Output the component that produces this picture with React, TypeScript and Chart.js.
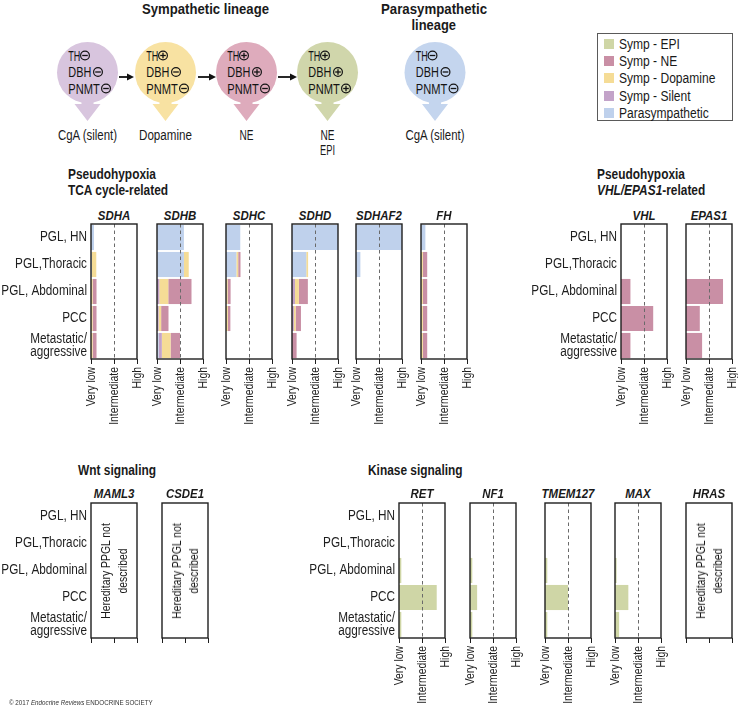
import React, { useEffect, useRef } from "react";
import { Chart, registerables } from "chart.js";
Chart.register(...registerables);

const FONT = "'Liberation Sans', Arial, sans-serif";

// ---------- data ----------
const categories = [["PGL, HN"], ["PGL,Thoracic"], ["PGL, Abdominal"], ["PCC"], ["Metastatic/", "aggressive"]];
const xTickValues = [0, 1, 2];
const xTickLabels = ["Very low", "Intermediate", "High"];
const seriesNames = ["Parasympathetic", "Symp - Silent", "Symp - Dopamine", "Symp - NE", "Symp - EPI"];
const seriesColors = ["#bfd1ec", "#c3a3c9", "#f5dc96", "#c98fa5", "#cfd6a6"];
const legendOrder = ["Symp - EPI", "Symp - NE", "Symp - Dopamine", "Symp - Silent", "Parasympathetic"];

// order of values: PGL HN, PGL Thoracic, PGL Abdominal, PCC, Metastatic
const zero = [0, 0, 0, 0, 0];
const sdhaPara = [0.13, 0.03, 0, 0, 0];
const sdhaDopa = [0, 0.2, 0.07, 0.07, 0.07];
const sdhaNE = [0, 0, 0.17, 0.17, 0.17];

const sdhbPara = [1.17, 1.17, 0, 0, 0.07];
const sdhbSilent = [0, 0, 0.1, 0.07, 0.14];
const sdhbDopa = [0, 0.21, 0.39, 0.11, 0.38];
const sdhbNE = [0, 0, 1.01, 0.32, 0.41];

const sdhcPara = [0.62, 0.45, 0, 0, 0];
const sdhcDopa = [0, 0.08, 0.07, 0.08, 0];
const sdhcNE = [0, 0.1, 0.13, 0.11, 0];

const sdhdPara = [2, 0.62, 0, 0, 0];
const sdhdSilent = [0, 0, 0.13, 0.08, 0];
const sdhdDopa = [0, 0.08, 0.17, 0.08, 0];
const sdhdNE = [0, 0, 0.39, 0.23, 0.2];

const sdhaf2Para = [2, 0.19, 0, 0, 0];

const fhPara = [0.19, 0, 0, 0, 0];
const fhDopa = [0, 0.08, 0.08, 0.08, 0.08];
const fhNE = [0, 0.19, 0.19, 0.19, 0.19];

const vhlNE = [0, 0, 0.41, 1.4, 0.41];
const epas1NE = [0, 0, 1.61, 0.6, 0.7];

const retEPI = [0, 0, 0.1, 1.64, 0.1];
const nf1EPI = [0, 0, 0.1, 0.31, 0.1];
const tmem127EPI = [0, 0, 0.1, 1.0, 0.1];
const maxEPI = [0, 0, 0.07, 0.58, 0.18];

const notDescribed = ["Hereditary PPGL not", "described"];

// ---------- chart plugin: frame, dashed intermediate line, ticks and condensed labels ----------
const framePlugin = {
  id: "frame",
  afterDatasetsDraw(chart: any, _args: any, opts: any) {
    const { ctx, chartArea } = chart;
    const { left, top, right, bottom } = chartArea;
    const xs = chart.scales.x;
    const ys = chart.scales.y;
    ctx.save();
    if (opts.dashed) {
      const px = Math.round(xs.getPixelForValue(1)) + 0.5;
      ctx.setLineDash([3.5, 3]);
      ctx.strokeStyle = "#6a6a6a";
      ctx.lineWidth = 1;
      ctx.beginPath();
      ctx.moveTo(px, top);
      ctx.lineTo(px, bottom);
      ctx.stroke();
    }
    ctx.setLineDash([]);
    ctx.strokeStyle = "#1e1e1e";
    ctx.lineWidth = 1.4;
    ctx.strokeRect(left, top, right - left, bottom - top);
    // tick marks
    ctx.lineWidth = 1;
    xTickValues.forEach((v) => {
      const px = Math.round(xs.getPixelForValue(v)) + 0.5;
      ctx.beginPath();
      ctx.moveTo(px, bottom);
      ctx.lineTo(px, bottom + 5);
      ctx.stroke();
    });
    ctx.fillStyle = "#1e1e1e";
    if (opts.showX) {
      ctx.font = `13px ${FONT}`;
      xTickValues.forEach((v, i) => {
        const px = xs.getPixelForValue(v);
        ctx.save();
        ctx.translate(px, bottom + 8);
        ctx.rotate(-Math.PI / 2);
        ctx.scale(0.8, 1);
        ctx.textAlign = "right";
        ctx.textBaseline = "middle";
        ctx.fillText(xTickLabels[i], 0, 0);
        ctx.restore();
      });
    }
    if (opts.showY) {
      ctx.font = `14px ${FONT}`;
      (chart.data.labels as any[]).forEach((lab, i) => {
        const py = ys.getPixelForValue(i);
        const lines = Array.isArray(lab) ? lab : [lab];
        lines.forEach((ln: string, j: number) => {
          const yy = py + (j - (lines.length - 1) / 2) * 13.7;
          ctx.save();
          ctx.translate(left - 4, yy);
          ctx.scale(0.84, 1);
          ctx.textAlign = "right";
          ctx.textBaseline = "middle";
          ctx.fillText(ln, 0, 0);
          ctx.restore();
        });
      });
    }
    ctx.restore();
  },
};

type PanelProps = {
  x: number; y: number; w: number; h: number; labelW: number;
  series: number[][]; showX: boolean; dashed: boolean;
};

function Panel({ x, y, w, h, labelW, series, showX, dashed }: PanelProps) {
  const ref = useRef<HTMLCanvasElement>(null);
  const padT = 3, padR = 12, padL = labelW ? labelW : 12, axisH = 78;
  const cw = padL + w + padR;
  const ch = padT + h + axisH;
  useEffect(() => {
    const chart = new Chart(ref.current as HTMLCanvasElement, {
      type: "bar",
      data: {
        labels: categories as any,
        datasets: series.map((vals, i) => ({
          label: seriesNames[i],
          data: vals,
          backgroundColor: seriesColors[i],
          borderWidth: 0,
          barPercentage: 0.93,
          categoryPercentage: 1,
        })),
      },
      options: {
        animation: false,
        responsive: false,
        devicePixelRatio: 1,
        indexAxis: "y",
        layout: { padding: { top: padT, right: padR, left: padL, bottom: axisH } },
        plugins: {
          legend: { display: false },
          tooltip: { enabled: false },
          frame: { dashed, showX, showY: labelW > 0 },
        } as any,
        scales: {
          x: { type: "linear", min: 0, max: 2, stacked: true, display: false },
          y: { type: "category", stacked: true, display: false },
        },
      } as any,
      plugins: [framePlugin],
    });
    return () => chart.destroy();
  }, []);
  return (
    <canvas
      ref={ref}
      width={cw}
      height={ch}
      style={{ position: "absolute", left: x - padL, top: y - padT, width: cw, height: ch }}
    />
  );
}

// ---------- text helper (condensed look) ----------
function T({ x, y, children, anchor = "start", sx = 0.84, style = {} }: any) {
  const tx = anchor === "middle" ? "-50%" : anchor === "end" ? "-100%" : "0";
  const origin = anchor === "middle" ? "center" : anchor === "end" ? "right" : "left";
  return (
    <div
      style={{
        position: "absolute", left: x, top: y, transform: `translate(${tx}, -50%) scaleX(${sx})`,
        transformOrigin: `${origin} center`,
        whiteSpace: "nowrap", fontFamily: FONT, fontSize: 14, lineHeight: "16px", color: "#1a1a1a", ...style,
      }}
    >
      {children}
    </div>
  );
}

const PW = 46, PH = 135, TOP1 = 224, TOP2 = 503;

const topPanels = [
  { gene: "SDHA", x: 91, labelW: 91, series: [sdhaPara, zero, sdhaDopa, sdhaNE, zero] },
  { gene: "SDHB", x: 157, labelW: 0, series: [sdhbPara, sdhbSilent, sdhbDopa, sdhbNE, zero] },
  { gene: "SDHC", x: 226, labelW: 0, series: [sdhcPara, zero, sdhcDopa, sdhcNE, zero] },
  { gene: "SDHD", x: 292, labelW: 0, series: [sdhdPara, sdhdSilent, sdhdDopa, sdhdNE, zero] },
  { gene: "SDHAF2", x: 356, labelW: 0, series: [sdhaf2Para, zero, zero, zero, zero] },
  { gene: "FH", x: 421, labelW: 0, series: [fhPara, zero, fhDopa, fhNE, zero] },
  { gene: "VHL", x: 621, labelW: 150, series: [zero, zero, zero, vhlNE, zero] },
  { gene: "EPAS1", x: 686, labelW: 0, series: [zero, zero, zero, epas1NE, zero] },
];

const bottomPanels = [
  { gene: "MAML3", x: 91, labelW: 91, series: [], note: true },
  { gene: "CSDE1", x: 162, labelW: 0, series: [], note: true },
  { gene: "RET", x: 399, labelW: 150, series: [zero, zero, zero, zero, retEPI], note: false },
  { gene: "NF1", x: 470, labelW: 0, series: [zero, zero, zero, zero, nf1EPI], note: false },
  { gene: "TMEM127", x: 545, labelW: 0, series: [zero, zero, zero, zero, tmem127EPI], note: false },
  { gene: "MAX", x: 615, labelW: 0, series: [zero, zero, zero, zero, maxEPI], note: false },
  { gene: "HRAS", x: 686, labelW: 0, series: [], note: true },
];

const cells = [
  { cx: 87.5, color: "#d8c5de", signs: [false, false, false], out: [["CgA (silent)", 59]] },
  { cx: 165.5, color: "#f8e2a2", signs: [true, false, false], out: [["Dopamine", 53]] },
  { cx: 246.5, color: "#deabbc", signs: [true, true, false], out: [["NE", 14]] },
  { cx: 327.5, color: "#d0d6ab", signs: [true, true, true], out: [["NE", 14], ["EPI", 15]] },
  { cx: 435, color: "#c4d5ee", signs: [false, false, false], out: [["CgA (silent)", 59]] },
];
const enzymes = ["TH", "DBH", "PNMT"];
const enzymeLen = [12, 23, 31.5];
const signOffset = [-2.5, 10.5, 18.5];
const arrows = [[119, 134], [198, 216], [278, 297]];

export default function App() {
  const bold = { fontWeight: 700 };
  const geneStyle = { fontWeight: 700, fontStyle: "italic", fontSize: 13 };
  return (
    <div style={{ position: "absolute", left: 0, top: 0, width: 738, height: 706, background: "#fff", overflow: "hidden" }}>
      {/* lineage diagram */}
      <svg width={738} height={160} style={{ position: "absolute", left: 0, top: 0 }} fontFamily={FONT}>
        <text x={142} y={8} dominantBaseline="central" fontSize={15} fontWeight={700} fill="#1a1a1a" textLength={127} lengthAdjust="spacingAndGlyphs">Sympathetic lineage</text>
        <text x={381} y={8} dominantBaseline="central" fontSize={15} fontWeight={700} fill="#1a1a1a" textLength={106} lengthAdjust="spacingAndGlyphs">Parasympathetic</text>
        <text x={411.5} y={24.5} dominantBaseline="central" fontSize={15} fontWeight={700} fill="#1a1a1a" textLength={44.5} lengthAdjust="spacingAndGlyphs">lineage</text>
        {cells.map((c, i) => (
          <g key={i}>
            <polygon
              points={`${c.cx - 6},98 ${c.cx + 6},98 ${c.cx + 6},104 ${c.cx + 13},104 ${c.cx},121 ${c.cx - 13},104 ${c.cx - 6},104`}
              fill={c.color}
            />
            <circle cx={c.cx} cy={72.5} r={30.5} fill={c.color} />
            {enzymes.map((e, j) => {
              const yy = 55.5 + j * 16.5;
              const sxc = c.cx + signOffset[j];
              return (
                <g key={j}>
                  <text x={c.cx - 19.2} y={yy} dominantBaseline="central" fontSize={14} fill="#141414" textLength={enzymeLen[j]} lengthAdjust="spacingAndGlyphs">{e}</text>
                  <circle cx={sxc} cy={yy} r={4.4} fill="none" stroke="#141414" strokeWidth={1.2} />
                  <line x1={sxc - 2.8} y1={yy} x2={sxc + 2.8} y2={yy} stroke="#141414" strokeWidth={1.3} />
                  {c.signs[j] && <line x1={sxc} y1={yy - 2.8} x2={sxc} y2={yy + 2.8} stroke="#141414" strokeWidth={1.3} />}
                </g>
              );
            })}
            {c.out.map(([o, len], j) => (
              <text key={"o" + j} x={c.cx} y={135 + j * 15} textAnchor="middle" dominantBaseline="central" fontSize={14} fill="#1a1a1a" textLength={len as number} lengthAdjust="spacingAndGlyphs">{o}</text>
            ))}
          </g>
        ))}
        {arrows.map(([a, b], i) => (
          <g key={i}>
            <line x1={a} y1={77} x2={b - 6} y2={77} stroke="#111" strokeWidth={1.8} />
            <polygon points={`${b - 7},73.5 ${b},77 ${b - 7},80.5`} fill="#111" />
          </g>
        ))}
      </svg>

      {/* legend */}
      <div style={{ position: "absolute", left: 597, top: 33, width: 134, height: 86, border: "1px solid #5a5a5a" }} />
      {legendOrder.map((name, i) => (
        <React.Fragment key={name}>
          <div style={{ position: "absolute", left: 604, top: 39 + i * 17.2, width: 10, height: 10, background: seriesColors[seriesNames.indexOf(name)] }} />
          <T x={619} y={44 + i * 17.2} sx={0.86}>{name}</T>
        </React.Fragment>
      ))}

      {/* group titles */}
      <T x={68} y={174} style={bold} sx={0.85}>Pseudohypoxia</T>
      <T x={68} y={190} style={bold} sx={0.85}>TCA cycle-related</T>
      <T x={597} y={174} style={bold} sx={0.85}>Pseudohypoxia</T>
      <T x={597} y={190} style={bold} sx={0.85}><i>VHL/EPAS1</i>-related</T>
      <T x={78} y={470} style={bold} sx={0.85}>Wnt signaling</T>
      <T x={368} y={470} style={bold} sx={0.85}>Kinase signaling</T>

      {/* panels */}
      {topPanels.map((p) => (
        <React.Fragment key={p.gene}>
          <T x={p.x + PW / 2} y={216} anchor="middle" sx={0.88} style={geneStyle}>{p.gene}</T>
          <Panel x={p.x} y={TOP1} w={PW} h={PH} labelW={p.labelW} series={p.series} showX={true} dashed={true} />
        </React.Fragment>
      ))}
      {bottomPanels.map((p) => (
        <React.Fragment key={p.gene}>
          <T x={p.x + PW / 2} y={494} anchor="middle" sx={0.88} style={geneStyle}>{p.gene}</T>
          <Panel x={p.x} y={TOP2} w={PW} h={PH} labelW={p.labelW} series={p.series} showX={!p.note} dashed={!p.note} />
          {p.note && (
            <div
              style={{
                position: "absolute", left: p.x + PW / 2, top: TOP2 + PH / 2,
                transform: "translate(-50%, -50%) rotate(-90deg) scaleX(0.8)", whiteSpace: "nowrap", textAlign: "center",
                fontFamily: FONT, fontSize: 13, lineHeight: "17px", color: "#1a1a1a",
              }}
            >
              {notDescribed[0]}<br />{notDescribed[1]}
            </div>
          )}
        </React.Fragment>
      ))}

      <T x={9} y={702} sx={0.78} style={{ fontSize: 8, color: "#333", lineHeight: "9px" }}>
        © 2017 <i>Endocrine Reviews</i> ENDOCRINE SOCIETY
      </T>
    </div>
  );
}
